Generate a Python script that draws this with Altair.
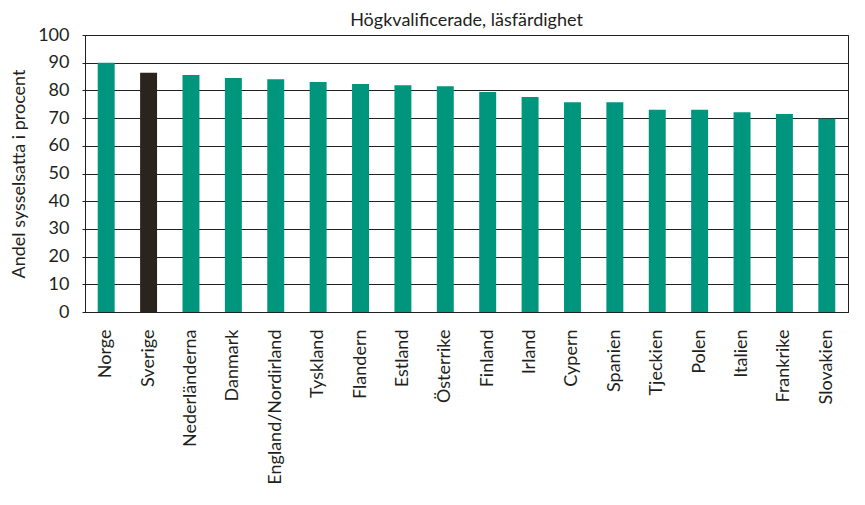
import altair as alt
import pandas as pd

countries = ["Norge", "Sverige", "Nederländerna", "Danmark", "England/Nordirland",
             "Tyskland", "Flandern", "Estland", "Österrike", "Finland", "Irland",
             "Cypern", "Spanien", "Tjeckien", "Polen", "Italien", "Frankrike", "Slovakien"]
values = [90.0, 86.4, 85.6, 84.5, 84.0, 83.0, 82.3, 81.9, 81.5, 79.4, 77.6,
          75.7, 75.7, 73.0, 73.0, 72.1, 71.5, 69.8]
highlight = ["Sverige"]

df = pd.DataFrame({"land": countries, "andel": values})
df["grupp"] = ["hl" if c in highlight else "std" for c in countries]

FONT = "Lato"
INK = "#231f20"

chart = alt.Chart(df).mark_bar().encode(
    x=alt.X("land:N", sort=countries, title=None,
            scale=alt.Scale(paddingInner=0.6, paddingOuter=0.3),
            axis=alt.Axis(labelAngle=-90, labelAlign="right", labelBaseline="middle",
                          labelPadding=17, ticks=False, domain=True, domainColor=INK,
                          labelFontSize=18, labelFont=FONT, labelColor=INK, grid=False)),
    y=alt.Y("andel:Q", title="Andel sysselsatta i procent",
            scale=alt.Scale(domain=[0, 100], nice=False),
            axis=alt.Axis(values=list(range(0, 101, 10)), ticks=True, tickSize=3,
                          tickColor=INK, labelPadding=13,
                          labelFontSize=18, labelFont=FONT, labelColor=INK,
                          titleFont=FONT, titleFontSize=18, titleFontWeight="normal",
                          titleColor=INK, titlePadding=9,
                          grid=True, gridColor=INK, gridWidth=1, gridOpacity=1,
                          domain=True, domainColor=INK)),
    color=alt.Color("grupp:N", scale=alt.Scale(domain=["std", "hl"],
                                               range=["#00967d", "#2b231e"]), legend=None),
).properties(
    width=763, height=277,
    title=alt.Title("Högkvalificerade, läsfärdighet", font=FONT, fontSize=18,
                    fontWeight="normal", color=INK, anchor="middle", offset=-4),
    autosize=alt.AutoSizeParams(type="none"),
    padding={"left": 77, "top": 27, "right": 9, "bottom": 180},
).configure_view(stroke=INK, strokeWidth=1)

chart.save("out.html", embed_options={"renderer": "svg", "actions": False})
